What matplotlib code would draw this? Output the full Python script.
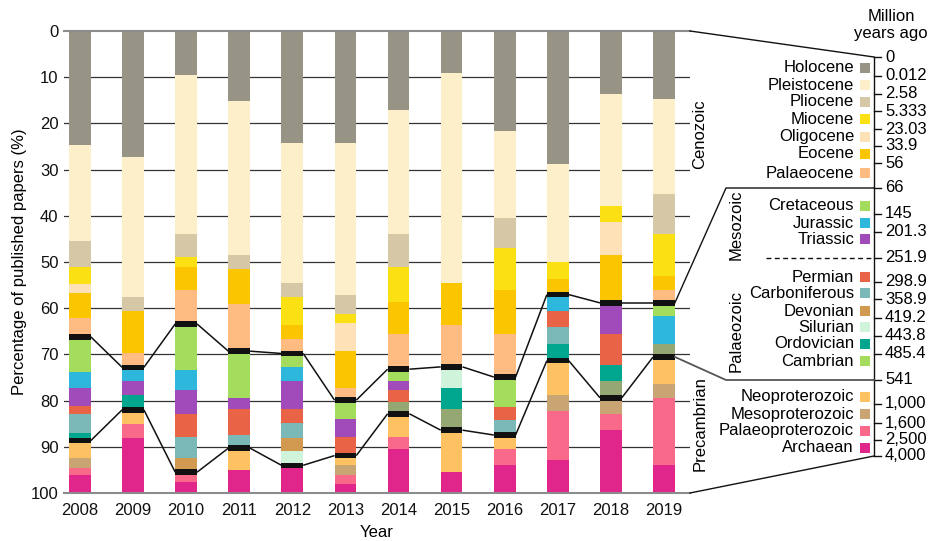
import matplotlib.pyplot as plt
import numpy as np

plt.rcParams['font.family'] = ['Liberation Sans', 'DejaVu Sans']

years = [2008, 2009, 2010, 2011, 2012, 2013, 2014, 2015, 2016, 2017, 2018, 2019]

# percentage of papers per geological interval (top of bar = youngest)
holocene = [24.7, 27.2, 9.5, 15.2, 24.3, 24.3, 17.1, 9.0, 21.7, 28.8, 13.6, 14.7]
pleistocene = [20.7, 30.3, 34.5, 33.3, 30.3, 32.9, 26.9, 45.6, 18.7, 21.2, 24.2, 20.6]
pliocene = [5.6, 3.1, 5.0, 3.1, 3.0, 4.0, 7.0, 0, 6.5, 0, 0, 8.6]
miocene = [3.7, 0, 2.0, 0, 6.1, 2.0, 7.6, 0, 9.2, 3.6, 3.5, 9.2]
oligocene = [2.0, 0, 0, 0, 0, 6.1, 0, 0, 0, 0, 7.2, 0]
eocene = [5.4, 9.1, 5.1, 7.5, 3.0, 8.0, 7.0, 9.1, 9.5, 3.45, 10.35, 3.0]
palaeocene = [4.1, 3.1, 7.3, 10.2, 3.1, 2.6, 7.6, 9.0, 9.3, 0, 0, 2.75]
cretaceous = [7.6, 0, 9.9, 10.1, 3.0, 4.0, 2.6, 0, 6.5, 0, 0, 2.85]
jurassic = [3.5, 3.0, 4.5, 0, 3.0, 0, 0, 0, 0, 3.55, 0, 6.0]
triassic = [3.9, 3.0, 5.0, 2.5, 6.1, 4.0, 2.0, 0, 0, 0, 6.75, 0]
permian = [1.6, 0, 5.1, 5.5, 3.0, 4.0, 2.5, 0, 2.9, 3.4, 6.6, 0]
carboniferous = [4.2, 0, 4.5, 2.9, 3.1, 0, 0, 0, 3.15, 3.7, 0, 0]
devonian = [0, 0, 3.1, 0, 3.0, 0, 0, 0, 0, 0, 0, 0]
silurian = [0, 0, 0, 0, 3.0, 0, 0, 4.6, 0, 0, 0, 0]
ordovician = [1.65, 3.2, 0, 0, 0, 0, 0, 4.6, 0, 3.65, 3.6, 0]
cambrian = [0, 0, 0, 0, 0, 0, 2.55, 4.5, 0, 0, 3.6, 2.85]
neoproterozoic = [3.75, 3.0, 0, 4.8, 0, 2.1, 5.05, 9.1, 2.95, 7.45, 0, 5.75]
mesoproterozoic = [2.1, 0, 0, 0, 0, 2.0, 0, 0, 0, 3.5, 3.4, 3.1]
palaeoproterozoic = [1.5, 3.0, 2.1, 0, 0, 2.0, 2.6, 0, 3.6, 10.6, 3.6, 14.6]
archaean = [4.0, 12.0, 2.4, 4.9, 6.0, 2.0, 9.5, 4.5, 6.0, 7.1, 13.6, 6.0]

# name, values, bar colour, legend colour
cenozoic = [
    ("Holocene", holocene, "#979385", "#979385"),
    ("Pleistocene", pleistocene, "#fdefca", "#fdefca"),
    ("Pliocene", pliocene, "#d6c7a6", "#d6c7a6"),
    ("Miocene", miocene, "#fbe114", "#fbe114"),
    ("Oligocene", oligocene, "#fee1b6", "#fee1b6"),
    ("Eocene", eocene, "#fbc500", "#fbc500"),
    ("Palaeocene", palaeocene, "#febb82", "#febb82"),
]
meso_palaeo = [
    ("Cretaceous", cretaceous, "#a4dc5e", "#a4dc5e"),
    ("Jurassic", jurassic, "#2db7dc", "#2db7dc"),
    ("Triassic", triassic, "#a14bba", "#a14bba"),
    ("Permian", permian, "#e96446", "#e96446"),
    ("Carboniferous", carboniferous, "#7bb8b8", "#7bb8b8"),
    ("Devonian", devonian, "#d19a50", "#d19a50"),
    ("Silurian", silurian, "#cff4db", "#cff4db"),
    ("Ordovician", ordovician, "#00a78e", "#00a78e"),
    ("Cambrian", cambrian, "#95a874", "#a4dc5e"),
]
precambrian = [
    ("Neoproterozoic", neoproterozoic, "#fec262", "#fec262"),
    ("Mesoproterozoic", mesoproterozoic, "#c8a573", "#c8a573"),
    ("Palaeoproterozoic", palaeoproterozoic, "#f8698a", "#f8698a"),
    ("Archaean", archaean, "#e0258b", "#e0258b"),
]
groups = [cenozoic, meso_palaeo, precambrian]

age_labels = ["0", "0.012", "2.58", "5.333", "23.03", "33.9", "56", "66", "145",
              "201.3", "251.9", "298.9", "358.9", "419.2", "443.8", "485.4", "541",
              "1,000", "1,600", "2,500", "4,000"]

fig = plt.figure(figsize=(9.46, 5.41), dpi=100)
W, H = 946, 541
ax = fig.add_axes([64 / W, 1 - 493 / H, (690 - 64) / W, (493 - 31) / H])

x = np.arange(len(years))
bw = 0.41
bottom = np.zeros(len(years))
boundaries = []
for gi, group in enumerate(groups):
    for name, vals, col, _ in group:
        v = np.array(vals, dtype=float)
        ax.bar(x, v, bottom=bottom, width=bw, color=col, linewidth=0, zorder=2)
        bottom = bottom + v
    if gi < 2:
        boundaries.append(bottom.copy())

# black boundary markers and connecting lines
for b in boundaries:
    ax.bar(x, 1.2, bottom=b - 0.6, width=bw, color="#111111", linewidth=0, zorder=3)
    for i in range(len(years) - 1):
        ax.plot([x[i] + bw / 2, x[i + 1] - bw / 2], [b[i], b[i + 1]],
                color="#111111", lw=1.1, zorder=3, solid_capstyle="butt")

ax.set_xlim(-0.3, 11.49)
ax.set_ylim(100, 0)
ax.set_yticks(range(0, 101, 10))
for t in range(10, 100, 10):
    ax.axhline(t, color="#333333", lw=0.9, zorder=0)
ax.set_xticks(x)
ax.set_xticklabels([str(y) for y in years])
ax.tick_params(axis="both", length=0, labelsize=12, colors="#111111")
ax.tick_params(axis="y", pad=4)
ax.tick_params(axis="x", pad=7)
for s in ["left", "right"]:
    ax.spines[s].set_visible(False)
for s in ["top", "bottom"]:
    ax.spines[s].set_color("#8c8c8c")
    ax.spines[s].set_linewidth(1.5)
ax.set_ylabel("Percentage of published papers (%)", fontsize=12, labelpad=3)
ax.set_xlabel("Year", fontsize=12, labelpad=5)

# right-hand time scale panel, drawn in pixel coordinates
pan = fig.add_axes([0, 0, 1, 1], facecolor="none")
pan.set_xlim(0, W)
pan.set_ylim(H, 0)
pan.axis("off")

def to_pan(trans, pt):
    return pan.transData.inverted().transform(trans.transform(pt))

axis_x = 874
tick_y = [57, 76, 94, 111, 129, 146, 163, 188, 214, 232, 258, 282, 299, 318, 336,
          354, 380, 404, 423, 440, 456]
pan.plot([axis_x, axis_x], [tick_y[0], tick_y[-1]], color="#111111", lw=1)
for ty, lab in zip(tick_y, age_labels):
    pan.plot([axis_x, axis_x + 7], [ty, ty], color="#111111", lw=1)
    pan.text(axis_x + 11, ty, lab, fontsize=12, ha="left", va="center")

pan.text(891, 25, "Million\nyears ago", fontsize=12, ha="center", va="center",
         linespacing=1.1)

legend_y = [68, 85, 102, 119, 137, 154, 173, 206, 223, 239, 277, 293, 311, 327,
            344, 361, 397, 414, 431, 448]
entries = [e for g in groups for e in g]
for (name, _, _, lcol), ly in zip(entries, legend_y):
    pan.add_patch(plt.Rectangle((860, ly - 5), 10, 10, color=lcol, lw=0))
    pan.text(854, ly, name, fontsize=12, ha="right", va="center")

# outline connectors
top_r = to_pan(ax.transAxes, (1, 1))
bot_r = to_pan(ax.transAxes, (1, 0))
pan.plot([top_r[0], axis_x], [top_r[1], tick_y[0]], color="#111111", lw=1)
pan.plot([bot_r[0], axis_x], [bot_r[1], tick_y[-1]], color="#111111", lw=1)

p1 = to_pan(ax.transData, (x[-1] + bw / 2, boundaries[0][-1]))
pan.plot([p1[0], 726, axis_x], [p1[1], tick_y[7], tick_y[7]], color="#111111", lw=1)
p2 = to_pan(ax.transData, (x[-1] + bw / 2, boundaries[1][-1]))
pan.plot([p2[0], 726, axis_x], [p2[1], tick_y[16], tick_y[16]], color="#555555", lw=1.3)
pan.plot([766, axis_x], [tick_y[10], tick_y[10]], color="#111111", lw=1,
         linestyle=(0, (3.5, 2.5)))

pan.text(700, 134, "Cenozoic", fontsize=12, rotation=90, ha="center", va="center")
pan.text(736, 225, "Mesozoic", fontsize=12, rotation=90, ha="center", va="center")
pan.text(736, 331, "Palaeozoic", fontsize=12, rotation=90, ha="center", va="center")
pan.text(700, 424, "Precambrian", fontsize=12, rotation=90, ha="center", va="center")

fig.savefig("out.png", dpi=100)
